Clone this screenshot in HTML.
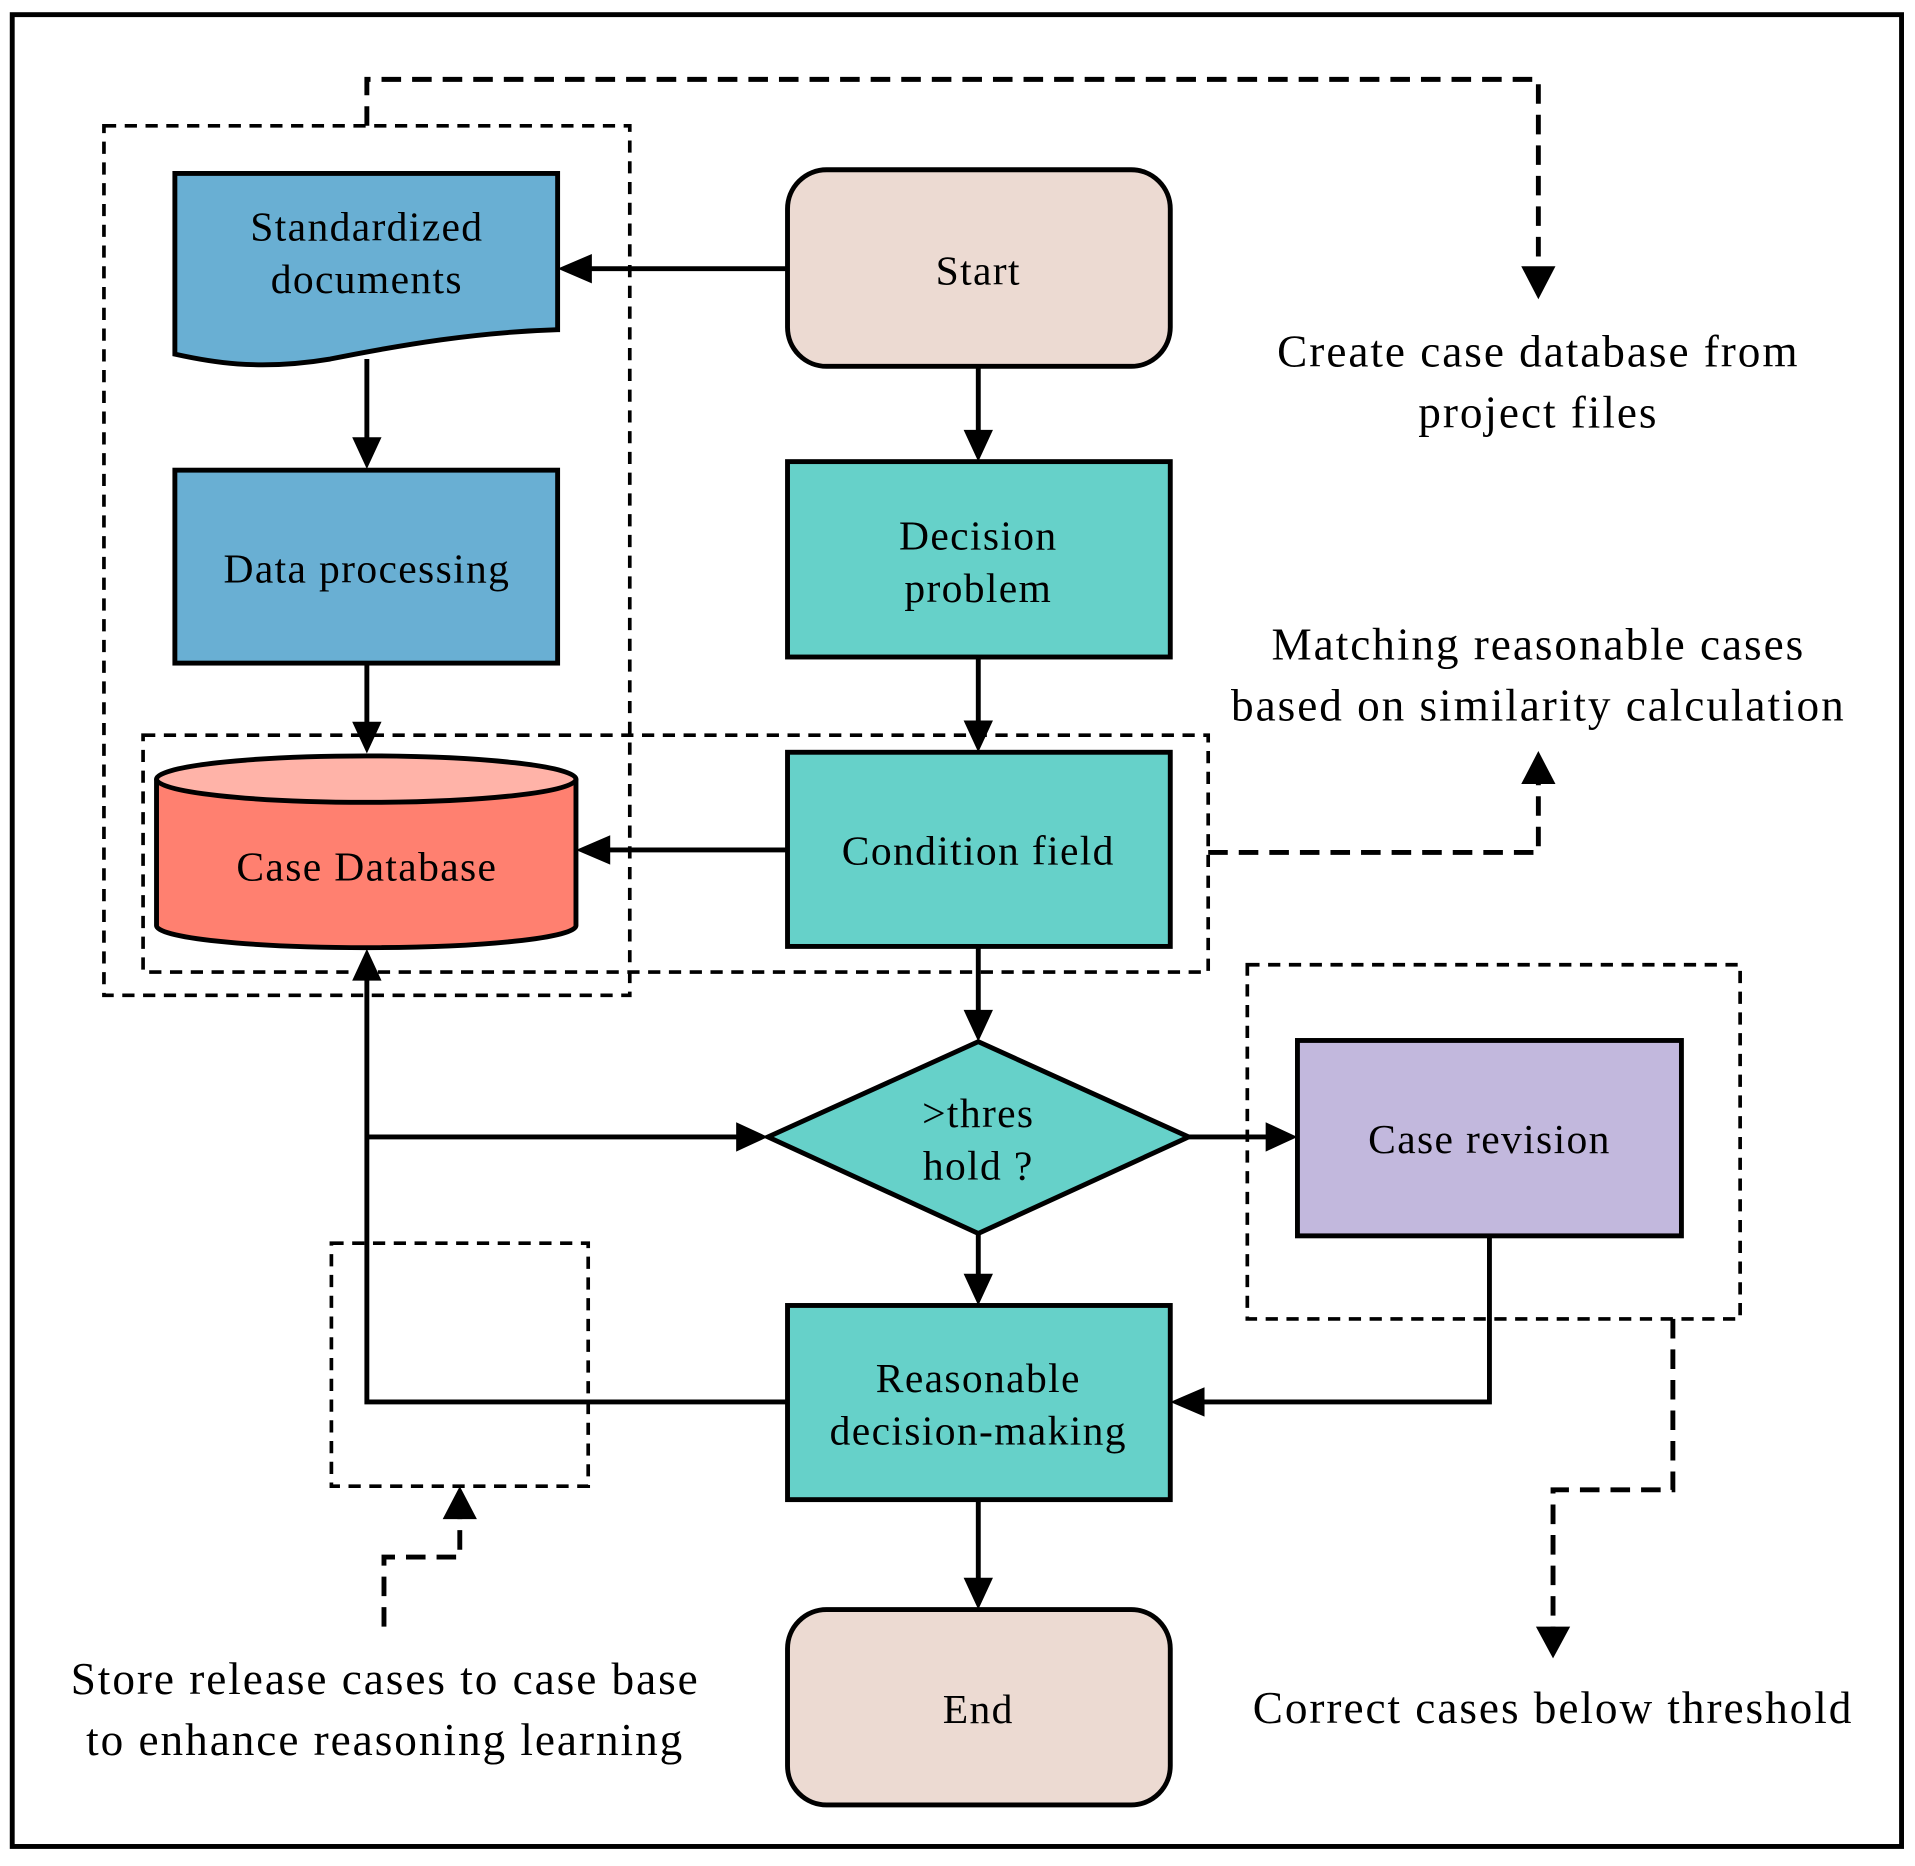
<!DOCTYPE html>
<html><head><meta charset="utf-8"><style>html,body{margin:0;padding:0;background:#fff}svg{display:block}</style></head>
<body>
<svg width="1915" height="1866" viewBox="0 0 1566 1528" preserveAspectRatio="none" xmlns="http://www.w3.org/2000/svg" font-family="Liberation Serif, serif" font-size="34">
<rect x="10" y="12" width="1545" height="1500" fill="#fff" stroke="#000" stroke-width="4"/>
<g fill="none" stroke="#000" stroke-width="3" stroke-dasharray="10,7">
<rect x="85" y="103" width="430" height="712"/>
<rect x="117" y="602" width="871" height="194"/>
<rect x="1020" y="790" width="403" height="290"/>
<rect x="271" y="1018" width="210" height="199"/>
</g>
<g fill="none" stroke="#000" stroke-width="4" stroke-dasharray="16,9">
<path d="M300,103 V65 H1258 V220"/>
<path d="M988,698 H1258 V640"/>
<path d="M1368,1080 V1220 H1270 V1335"/>
<path d="M314,1332 V1275 H376 V1240"/>
</g>
<g fill="#000">
<path d="M1244,218 L1272,218 L1258,245 z"/>
<path d="M1244,642 L1272,642 L1258,615 z"/>
<path d="M1256,1332 L1284,1332 L1270,1358 z"/>
<path d="M362,1244 L390,1244 L376,1217 z"/>
</g>
<path d="M143,142 H456 V270 C390,272 330,282 270,294 C210,304 170,296 143,290 Z" fill="#69AFD3" stroke="#000" stroke-width="4"/>
<rect x="143" y="385" width="313" height="158" fill="#69AFD3" stroke="#000" stroke-width="4"/>
<path d="M128,638 V758 A171.5,18 0 0 0 471,758 V638" fill="#FF8070" stroke="#000" stroke-width="4"/>
<ellipse cx="299.5" cy="638" rx="171.5" ry="19" fill="#FFB3A8" stroke="#000" stroke-width="4"/>
<rect x="644" y="139" width="313" height="161" rx="32" fill="#ECDAD2" stroke="#000" stroke-width="4"/>
<rect x="644" y="378" width="313" height="160" fill="#66D1C9" stroke="#000" stroke-width="4"/>
<rect x="644" y="616" width="313" height="159" fill="#66D1C9" stroke="#000" stroke-width="4"/>
<path d="M628,931 L800,853 L972,931 L800,1010 Z" fill="#66D1C9" stroke="#000" stroke-width="4"/>
<rect x="1061" y="852" width="314" height="160" fill="#C2B8DD" stroke="#000" stroke-width="4"/>
<rect x="644" y="1069" width="313" height="159" fill="#66D1C9" stroke="#000" stroke-width="4"/>
<rect x="644" y="1318" width="313" height="160" rx="32" fill="#ECDAD2" stroke="#000" stroke-width="4"/>
<g fill="none" stroke="#000" stroke-width="4">
<path d="M644,220 H470"/>
<path d="M300,294 V370"/>
<path d="M300,543 V600"/>
<path d="M800,300 V365"/>
<path d="M800,538 V600"/>
<path d="M644,696 H485"/>
<path d="M800,775 V840"/>
<path d="M972,931 H1045"/>
<path d="M800,1010 V1055"/>
<path d="M1218,1012 V1148 H970"/>
<path d="M800,1228 V1305"/>
<path d="M644,1148 H300 V790"/>
<path d="M300,931 H615"/>
</g>
<path d="M456,220 L484,208 L484,232 z M300,384 L288,358 L312,358 z M300,617 L288,591 L312,591 z M800,378 L788,352 L812,352 z M800,616 L788,590 L812,590 z M471,696 L499,684 L499,708 z M800,853 L788,827 L812,827 z M1061,931 L1035,919 L1035,943 z M800,1069 L788,1043 L812,1043 z M957,1148 L985,1136 L985,1160 z M800,1318 L788,1292 L812,1292 z M300,777 L288,803 L312,803 z M628,931 L602,919 L602,943 z" fill="#000"/>
<g text-anchor="middle" fill="#000" letter-spacing="1.1">
<text x="300" y="197">Standardized</text>
<text x="300" y="240">documents</text>
<text x="300" y="477">Data processing</text>
<text x="300" y="721">Case Database</text>
<text x="800" y="233">Start</text>
<text x="800" y="450">Decision</text>
<text x="800" y="493">problem</text>
<text x="800" y="708">Condition field</text>
<text x="800" y="923">&gt;thres</text>
<text x="800" y="966">hold ?</text>
<text x="1218" y="944">Case revision</text>
<text x="800" y="1140">Reasonable</text>
<text x="800" y="1183">decision-making</text>
<text x="800" y="1411">End</text>
</g>
<g text-anchor="middle" fill="#000" font-size="37" letter-spacing="1.6">
<text x="1258" y="300">Create case database from</text>
<text x="1258" y="350">project files</text>
<text x="1258" y="540">Matching reasonable cases</text>
<text x="1258" y="590">based on similarity calculation</text>
<text x="1270" y="1411">Correct cases below threshold</text>
<text x="315" y="1387">Store release cases to case base</text>
<text x="315" y="1437">to enhance reasoning learning</text>
</g>
</svg>
</body></html>
